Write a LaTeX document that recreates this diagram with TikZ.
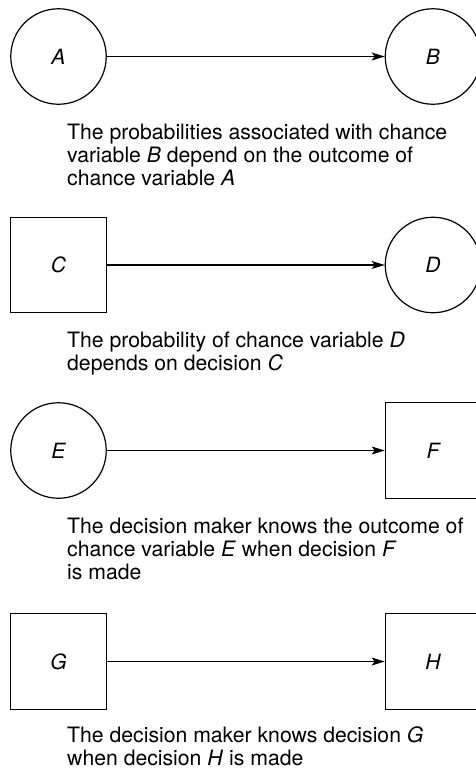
\documentclass[tikz,border=0pt]{standalone}
\usepackage{fontspec}
\setmainfont{TeX Gyre Heros}
\usetikzlibrary{arrows.meta}
\tikzset{
  chance/.style={draw, circle, line width=1.2pt, minimum size=95.5pt, inner sep=0pt, font=\fontsize{21}{23}\selectfont\itshape},
  decision/.style={draw, rectangle, line width=1.2pt, minimum size=95.5pt, inner sep=0pt, font=\fontsize{21}{23}\selectfont\itshape},
  link/.style={line width=1.2pt, -{Stealth[length=13pt, width=8pt, inset=3pt]}},
  caption/.style={anchor=base west, inner sep=0pt, align=left, font=\fontsize{21.2}{23.3}\selectfont}
}
\begin{document}
\begin{tikzpicture}[x=1pt, y=-1pt]
\useasboundingbox (0,0) rectangle (475,769);
% Row 1
\node[chance] (A) at (58.5,56.5) {A};
\node[chance] (B) at (433,56.5) {B};
\draw[link] (A) -- (B);
\node[caption] (t1) at (67,185.6) {The probabilities associated with chance\\variable \textit{B} depend on the outcome of\\chance variable \textit{A}};
% Row 2
\node[decision] (C) at (58.5,265) {C};
\node[chance] (D) at (433,265) {D};
\draw[link] (C) -- (D);
\node[caption] (t2) at (67,370.3) {The probability of chance variable \textit{D}\\depends on decision \textit{C}};
% Row 3
\node[chance] (E) at (58.5,450.5) {E};
\node[decision] (F) at (433,450.5) {F};
\draw[link] (E) -- (F);
\node[caption] (t3) at (67,579.6) {The decision maker knows the outcome of\\chance variable \textit{E} when decision \textit{F}\\is made};
% Row 4
\node[decision] (G) at (58.5,661.5) {G};
\node[decision] (H) at (433,661.5) {H};
\draw[link] (G) -- (H);
\node[caption] (t4) at (67,765.3) {The decision maker knows decision \textit{G}\\when decision \textit{H} is made};
\end{tikzpicture}
\end{document}
